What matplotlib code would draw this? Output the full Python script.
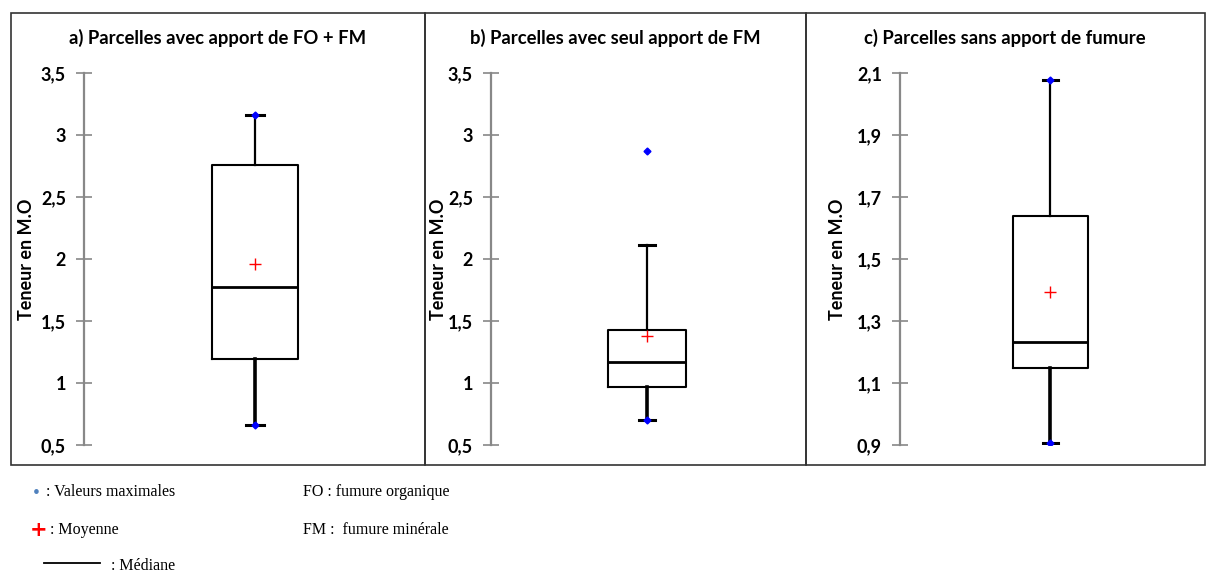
import matplotlib.pyplot as plt
from matplotlib.patches import Rectangle

# valeurs (teneur en M.O)
titles = ["a) Parcelles avec apport de FO + FM",
          "b) Parcelles avec seul apport de FM",
          "c) Parcelles sans apport de fumure"]
q1 = [1.19, 0.965, 1.149]
med = [1.775, 1.17, 1.233]
q3 = [2.76, 1.425, 1.64]
whis_lo = [0.66, 0.70, 0.906]
whis_hi = [3.165, 2.11, 2.078]
means = [1.96, 1.38, 1.395]
v_max = [3.165, 2.87, 2.078]
v_min = [0.66, 0.70, 0.906]
y_ticks = [[0.5, 1, 1.5, 2, 2.5, 3, 3.5],
           [0.5, 1, 1.5, 2, 2.5, 3, 3.5],
           [0.9, 1.1, 1.3, 1.5, 1.7, 1.9, 2.1]]
y_ticklabels = [["0,5", "1", "1,5", "2", "2,5", "3", "3,5"],
                ["0,5", "1", "1,5", "2", "2,5", "3", "3,5"],
                ["0,9", "1,1", "1,3", "1,5", "1,7", "1,9", "2,1"]]

W, H = 1206, 574
fig = plt.figure(figsize=(W / 100, H / 100), dpi=100)
sans = "Lato"

# cadres et axes (en pixels)
frames = [(11, 425), (425, 806), (806, 1205)]
ax_left = [84, 491, 900]
ax_width = [342, 312, 300]
label_x = [27, 439, 838]
title_x = [218, 615, 1005]
y_top, y_bot = 73, 445

for i in range(3):
    fx0, fx1 = frames[i]
    fig.add_artist(Rectangle((fx0 / W, 1 - 465 / H), (fx1 - fx0) / W, (465 - 13) / H,
                             transform=fig.transFigure, fill=False, ec="#333333", lw=1.2))

    ax = fig.add_axes([ax_left[i] / W, 1 - y_bot / H, ax_width[i] / W, (y_bot - y_top) / H])
    stats = [dict(med=med[i], q1=q1[i], q3=q3[i], whislo=whis_lo[i], whishi=whis_hi[i],
                  mean=means[i], fliers=[])]
    bp = ax.bxp(stats, positions=[0.5], widths=0.25, capwidths=0.05, showmeans=True,
                showfliers=False,
                boxprops=dict(color="black", lw=1.5),
                medianprops=dict(color="black", lw=2.0),
                whiskerprops=dict(color="black", lw=1.6),
                capprops=dict(color="black", lw=2.2),
                meanprops=dict(marker="+", markeredgecolor="red", markersize=8.5,
                               markeredgewidth=1.0))
    bp["whiskers"][0].set_linewidth(2.6)
    ax.plot([0.5, 0.5], [v_min[i], v_max[i]], ls="none", marker="D", ms=3.5,
            color="blue", zorder=5)

    ax.set_xlim(0, 1)
    ax.set_ylim(y_ticks[i][0], y_ticks[i][-1])
    ax.set_yticks(y_ticks[i])
    ax.set_yticklabels(y_ticklabels[i], fontsize=13, fontweight="bold", family=sans)
    ax.tick_params(axis="y", direction="inout", length=12, width=1.2, color="#888888", pad=7)
    ax.set_xticks([])
    for s in ["top", "right", "bottom"]:
        ax.spines[s].set_visible(False)
    ax.spines["left"].set_color("#888888")
    ax.spines["left"].set_linewidth(1.6)
    ax.patch.set_alpha(0)

    fig.text(title_x[i] / W, 1 - 38 / H, titles[i],
             ha="center", va="center", fontsize=13.3, fontweight="bold", family=sans)
    fig.text(label_x[i] / W, 1 - 259 / H, "Teneur en M.O", rotation=90,
             ha="center", va="center", fontsize=13, fontweight="bold", family=sans)

# légende
serif = "Liberation Serif"
fig.text(36 / W, 1 - 494 / H, "\u2022", color="#4f81bd", fontsize=14, ha="center",
         va="center", family=serif)
fig.text(46 / W, 1 - 492 / H, ": Valeurs maximales", fontsize=11.5, va="center", family=serif)
fig.text(39 / W, 1 - 530 / H, "+", color="red", fontsize=15, fontweight="bold",
         ha="center", va="center", family="DejaVu Sans")
fig.text(50 / W, 1 - 530 / H, ": Moyenne", fontsize=11.5, va="center", family=serif)
fig.add_artist(plt.Line2D([44 / W, 100 / W], [1 - 563 / H, 1 - 563 / H], color="black",
                          lw=1.3, transform=fig.transFigure))
fig.text(111 / W, 1 - 566 / H, ": Médiane", fontsize=11.5, va="center", family=serif)
fig.text(303 / W, 1 - 492 / H, "FO : fumure organique", fontsize=11.5, va="center", family=serif)
fig.text(303 / W, 1 - 530 / H, "FM :  fumure minérale", fontsize=11.5, va="center", family=serif)

fig.savefig("out.png", dpi=100)
